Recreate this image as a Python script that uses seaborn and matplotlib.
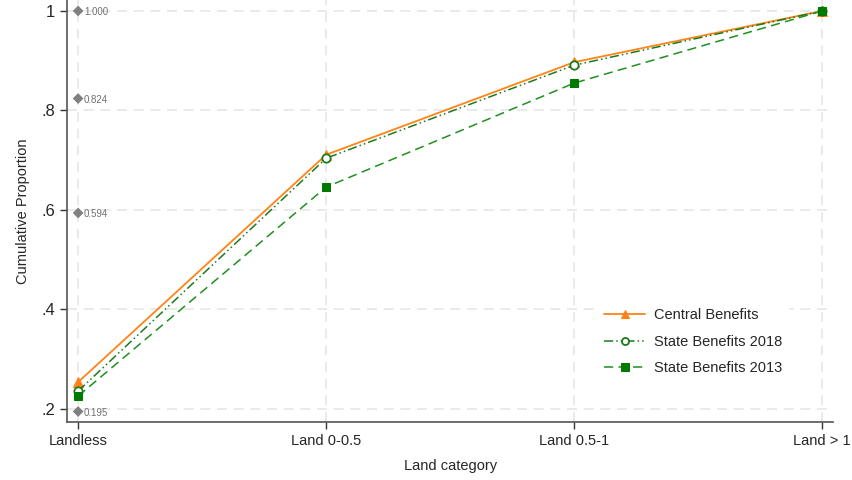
import numpy as np
import pandas as pd
import matplotlib
matplotlib.use("Agg")
import matplotlib.pyplot as plt
import seaborn as sns

categories = ["Landless", "Land 0-0.5", "Land 0.5-1", "Land > 1"]
central = [0.254, 0.711, 0.897, 1.0]
state_2018 = [0.236, 0.704, 0.891, 1.0]
state_2013 = [0.226, 0.646, 0.855, 1.0]
ref_values = [1.000, 0.824, 0.594, 0.195]
ref_labels = ["1.000", "0.824", "0.594", "0.195"]
ytick_vals = [0.2, 0.4, 0.6, 0.8, 1.0]
ytick_labels = [".2", ".4", ".6", ".8", "1"]

sns.set_style("white")
plt.rcParams['font.family'] = ['Liberation Sans', 'DejaVu Sans']

fig = plt.figure(figsize=(8.53, 4.8), dpi=100)
ax = fig.add_axes([0.0785, 0.121, 0.8985, 0.879])

x = np.arange(len(categories))

for v in ytick_vals:
    ax.axhline(v, color="#e6e6e6", lw=1.2, ls=(0, (6, 4)), zorder=0)
for xi in x:
    ax.axvline(xi, color="#e6e6e6", lw=1.2, ls=(0, (6, 4)), zorder=0)

# reference diamonds at the first category
ref_df = pd.DataFrame({"x": [0] * len(ref_values), "y": ref_values})
sns.scatterplot(data=ref_df, x="x", y="y", marker="D", color="#808080",
                s=30, edgecolor="none", ax=ax, zorder=3)
for v, lab in zip(ref_values, ref_labels):
    ax.text(0.024, v - 0.003, lab, fontsize=7, color="#707070", va="center", ha="left")

sns.lineplot(x=x, y=central, color="#ff8317", lw=1.3, marker="^", markersize=6.5,
             markeredgecolor="#ff8317", label="Central Benefits", ax=ax, zorder=4)
sns.lineplot(x=x, y=state_2018, color="#1b7a1b", lw=1.1, ls=(0, (6, 2, 1, 2, 1, 2)),
             marker="o", markersize=6, markerfacecolor="white", markeredgecolor="#1b7a1b",
             markeredgewidth=1.3, label="State Benefits 2018", ax=ax, zorder=4)
sns.lineplot(x=x, y=state_2013, color="#1f8f1f", lw=1.1, ls=(0, (6, 3.5)),
             marker="s", markersize=6, markerfacecolor="#007a00", markeredgecolor="#007a00",
             label="State Benefits 2013", ax=ax, zorder=4)

ax.set_xlim(-0.045, 3.045)
ax.set_ylim(0.174, 1.022)
ax.set_xticks(x)
ax.set_xticklabels(categories, fontsize=10.5)
ax.set_yticks(ytick_vals)
ax.set_yticklabels(ytick_labels, fontsize=12)
ax.set_xlabel("Land category", fontsize=10.5, labelpad=8)
ax.set_ylabel("Cumulative Proportion", fontsize=10.5, labelpad=8)

ax.tick_params(axis="both", direction="out", length=5, width=1, color="#333333",
               bottom=True, left=True)
for side in ["top", "right"]:
    ax.spines[side].set_visible(False)
for side in ["left", "bottom"]:
    ax.spines[side].set_color("#555555")
    ax.spines[side].set_linewidth(1.2)

leg = ax.legend(loc="lower right", bbox_to_anchor=(0.95, 0.08), frameon=True,
                fontsize=10.5, handlelength=2.8, handletextpad=0.6,
                labelspacing=0.85, markerscale=0.85)
leg.get_frame().set_edgecolor("white")
leg.get_frame().set_facecolor("white")
leg.get_frame().set_alpha(1)

fig.savefig("out.png", dpi=100)
